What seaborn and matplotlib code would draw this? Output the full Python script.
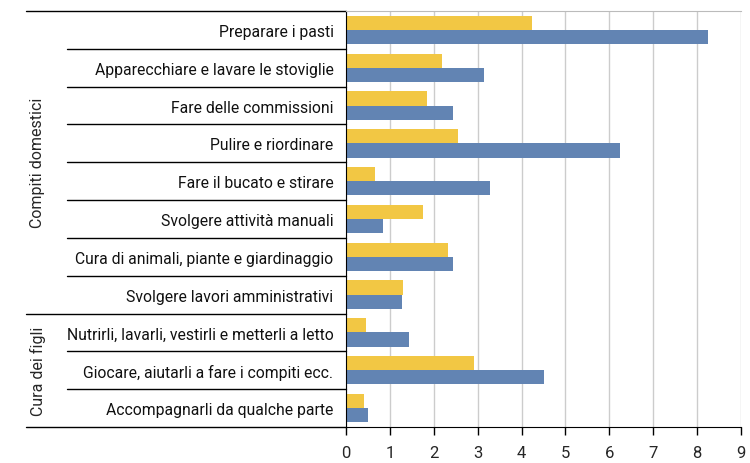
import pandas as pd
import matplotlib
matplotlib.use('Agg')
import matplotlib.pyplot as plt
import seaborn as sns

# data
attivita = ['Preparare i pasti', 'Apparecchiare e lavare le stoviglie', 'Fare delle commissioni',
            'Pulire e riordinare', 'Fare il bucato e stirare', 'Svolgere attività manuali',
            'Cura di animali, piante e giardinaggio', 'Svolgere lavori amministrativi',
            'Nutrirli, lavarli, vestirli e metterli a letto', 'Giocare, aiutarli a fare i compiti ecc.',
            'Accompagnarli da qualche parte']
gruppi = ['Compiti domestici'] * 8 + ['Cura dei figli'] * 3
uomini = [4.24, 2.19, 1.85, 2.56, 0.67, 1.75, 2.33, 1.30, 0.46, 2.92, 0.41]
donne = [8.24, 3.15, 2.44, 6.25, 3.29, 0.85, 2.44, 1.27, 1.43, 4.52, 0.50]
xticks = list(range(0, 10))

df = pd.DataFrame({'attivita': attivita * 2,
                   'ore': uomini + donne,
                   'serie': ['Uomini'] * len(uomini) + ['Donne'] * len(donne)})

sns.set_style('white')
plt.rcParams['font.family'] = ['Roboto', 'DejaVu Sans']

fig = plt.figure(figsize=(7.5, 4.64), dpi=100)
ax = fig.add_axes([0.4613, 0.0776, 0.5267, 0.8966])

sns.barplot(data=df, y='attivita', x='ore', hue='serie', orient='h', order=attivita,
            palette={'Uomini': '#F2C744', 'Donne': '#6284B3'}, width=0.75, saturation=1,
            edgecolor='none', legend=False, ax=ax)

ax.set_xlim(0, 9)
ax.set_ylim(len(attivita) - 0.5, -0.5)
ax.set_xticks(xticks)
ax.set_xticklabels([str(t) for t in xticks], fontsize=12)
ax.set_xlabel('')
ax.set_ylabel('')
ax.grid(axis='x', color='#cccccc', linewidth=1)
ax.set_axisbelow(True)
ax.tick_params(axis='x', bottom=True, length=6, width=1, color='black', pad=7)
ax.tick_params(axis='y', left=False, length=0, pad=9, labelsize=11.3)
for lab in ax.get_yticklabels():
    lab.set_color('#111111')

ax.spines['left'].set_color('black')
ax.spines['bottom'].set_color('black')
ax.spines['top'].set_color('#bbbbbb')
ax.spines['right'].set_visible(False)

# table lines on the left
tr = ax.get_yaxis_transform()
for i in range(len(attivita) + 1):
    y = i - 0.5
    if i == 0 or i == len(attivita) or gruppi[i] != gruppi[i - 1]:
        x0 = -0.81
    else:
        x0 = -0.706
    ax.plot([x0, 0], [y, y], transform=tr, color='black', linewidth=1, clip_on=False)

# group labels
for g in ['Compiti domestici', 'Cura dei figli']:
    idx = [i for i, v in enumerate(gruppi) if v == g]
    ymid = (idx[0] + idx[-1]) / 2
    ax.text(-0.78, ymid, g, transform=tr, rotation=90, ha='center', va='center', fontsize=11.5)

fig.savefig('out.png', dpi=100)
